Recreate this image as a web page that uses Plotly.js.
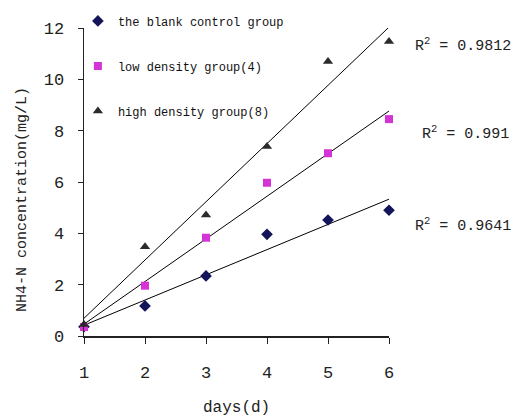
<!DOCTYPE html>
<html><head><meta charset="utf-8">
<script src="https://cdn.plot.ly/plotly-3.0.1.min.js"></script>
<style>html,body{margin:0;padding:0;background:#fff}#chart{width:513px;height:419px}</style>
</head><body><div id="chart"></div>
<script>
const days = [1, 2, 3, 4, 5, 6];
const blankControl = [0.36, 1.17, 2.34, 3.96, 4.52, 4.90];
const lowDensity = [0.35, 1.96, 3.83, 5.97, 7.12, 8.45];
const highDensity = [0.45, 3.48, 4.71, 7.38, 10.69, 11.47];
const seriesNames = ['the blank control group', 'low density group(4)', 'high density group(8)'];
const r2Labels = ['R<sup>2</sup> = 0.9641', 'R<sup>2</sup> = 0.991', 'R<sup>2</sup> = 0.9812'];
const yTitle = 'NH4-N concentration(mg/L)';
const xTitle = 'days(d)';

function fit(x, y) {
  const n = x.length;
  const mx = x.reduce((a, b) => a + b, 0) / n;
  const my = y.reduce((a, b) => a + b, 0) / n;
  let sxy = 0, sxx = 0;
  for (let i = 0; i < n; i++) { sxy += (x[i] - mx) * (y[i] - my); sxx += (x[i] - mx) ** 2; }
  const b = sxy / sxx, a = my - b * mx;
  return x.map(v => a + b * v);
}

const FONT = 'Liberation Mono, DejaVu Sans Mono, monospace';
const series = [
  {y: blankControl, sym: 'diamond', color: '#14145a', size: 9},
  {y: lowDensity, sym: 'square', color: '#d633d6', size: 8},
  {y: highDensity, sym: 'triangle-up', color: '#2b2b2b', size: 9}
];
const traces = [];
series.forEach((s, i) => {
  traces.push({x: days, y: fit(days, s.y), mode: 'lines', line: {color: '#000', width: 1},
    showlegend: false, hoverinfo: 'skip', cliponaxis: false});
});
series.forEach((s, i) => {
  traces.push({x: days, y: s.y, mode: 'markers', name: seriesNames[i], legendgroup: 'g' + i,
    marker: {symbol: s.sym, color: s.color, size: s.size}, cliponaxis: false});
});

const txt = (size) => ({size: size, family: FONT, color: '#222'});
const layout = {
  width: 513, height: 419,
  margin: {l: 84, r: 124, t: 28, b: 83, autoexpand: false},
  paper_bgcolor: '#fff', plot_bgcolor: '#fff',
  font: {family: FONT, color: '#222'},
  showlegend: true,
  legend: {x: -0.02, y: 1.07, xanchor: 'left', yanchor: 'top', bgcolor: 'rgba(0,0,0,0)',
    font: {size: 12, family: FONT, color: '#111'}, traceorder: 'grouped', tracegroupgap: 26,
    itemwidth: 30},
  xaxis: {range: [1, 6], tickvals: days, ticks: 'outside', ticklen: 6, tickcolor: '#222',
    showline: true, linecolor: '#222', linewidth: 1.5, showgrid: false, zeroline: false,
    tickfont: txt(17), ticklabelstandoff: 14, automargin: false},
  yaxis: {range: [0, 12], dtick: 2, ticks: 'outside', ticklen: 5, tickcolor: '#222',
    showline: true, linecolor: '#222', linewidth: 1.5, showgrid: false, zeroline: false,
    tickfont: txt(17), ticklabelstandoff: 10, automargin: false},
  annotations: [
    {xref: 'paper', yref: 'paper', x: 1.08, y: (336 - 225) / 308, xanchor: 'left', yanchor: 'middle', text: r2Labels[0], showarrow: false, font: txt(15)},
    {xref: 'paper', yref: 'paper', x: 1.1, y: (336 - 133) / 308, xanchor: 'left', yanchor: 'middle', text: r2Labels[1], showarrow: false, font: txt(15)},
    {xref: 'paper', yref: 'paper', x: 1.08, y: (336 - 45) / 308, xanchor: 'left', yanchor: 'middle', text: r2Labels[2], showarrow: false, font: txt(15)},
    {xref: 'paper', yref: 'paper', x: (22 - 84) / 305, y: (336 - 200) / 308, xanchor: 'center', yanchor: 'middle', textangle: -90, text: yTitle, showarrow: false, font: txt(15)},
    {xref: 'paper', yref: 'paper', x: (236 - 84) / 305, y: (336 - 408) / 308, xanchor: 'center', yanchor: 'middle', text: xTitle, showarrow: false, font: txt(16)}
  ]
};
Plotly.newPlot('chart', traces, layout, {displayModeBar: false, staticPlot: true});
</script></body></html>
